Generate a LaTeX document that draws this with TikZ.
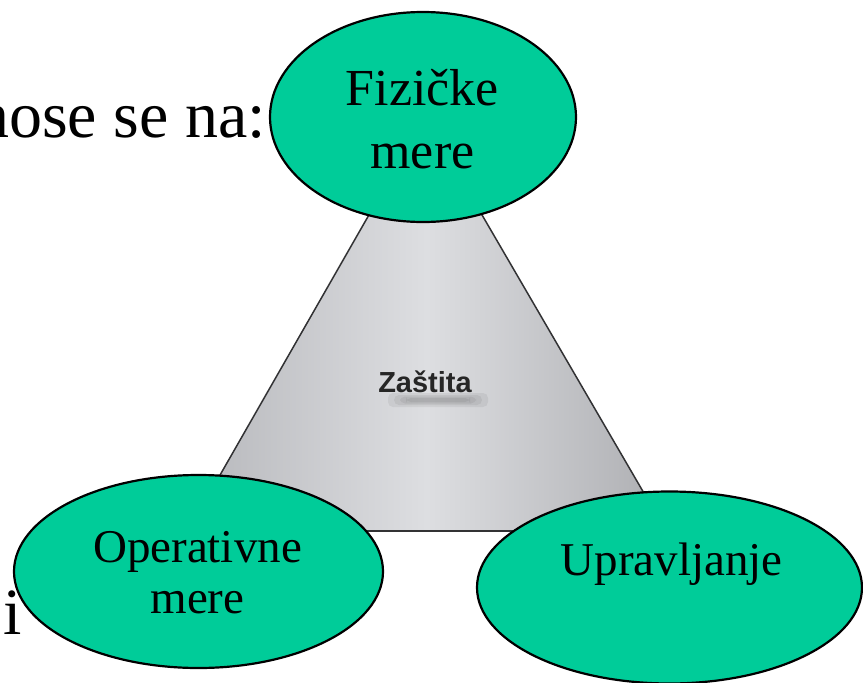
\documentclass[tikz,border=0pt]{standalone}
\usepackage{fontspec}
\setmainfont{Liberation Serif}
\newfontfamily\zsans{Liberation Sans}
\usetikzlibrary{shapes.geometric}
\definecolor{blobgreen}{RGB}{0,204,153}
\definecolor{trigray}{RGB}{182,183,187}
\definecolor{trilight}{RGB}{221,222,225}
\definecolor{triline}{RGB}{50,50,52}
\tikzset{
  blob/.style={ellipse, draw=black, line width=2.2pt, fill=blobgreen, inner sep=0pt},
  bigtxt/.style={inner sep=0pt, font=\fontsize{52}{60}\selectfont},
  midtxt/.style={inner sep=0pt, font=\fontsize{47}{54}\selectfont},
  slidetxt/.style={inner sep=0pt, font=\fontsize{66}{72}\selectfont},
}
\begin{document}
\begin{tikzpicture}[x=1pt,y=-1pt]
\useasboundingbox (0,0) rectangle (863,683);
% slide text behind
\node[slidetxt, anchor=base east] (nose) at (266,137) {nose se na:};
\node[slidetxt, anchor=base west] (ii) at (3,634) {i};
% triangle
\coordinate (apex) at (425,117);
\coordinate (bl) at (188,531);
\coordinate (br) at (666,531);
\shade[left color=trigray, right color=trigray!95!black, middle color=trilight, shading angle=90]
  (apex) -- (bl) -- (br) -- cycle;
\draw[triline, line width=1.5pt, line join=round] (apex) -- (bl) -- (br) -- cycle;
\draw[triline, line width=2.4pt] (bl) -- (br);
% soft shadow under the label
\foreach \w/\h in {100/14, 88/10, 76/7, 64/4}
  \fill[black, opacity=0.06, rounded corners=5pt] (438-\w/2,400-\h/2) rectangle (438+\w/2,400+\h/2);
\node[inner sep=0pt, anchor=base, text=black!85, font=\zsans\bfseries\fontsize{29}{32}\selectfont] (zastita) at (425,392) {Zaštita};
% ellipses
\node[blob, minimum width=306pt, minimum height=210pt] (fiz) at (423,117) {};
\node[blob, minimum width=369pt, minimum height=193pt] (ope) at (198.5,571.5) {};
\node[blob, minimum width=385pt, minimum height=192pt] (upr) at (669.5,587.5) {};
% ellipse texts
\node[bigtxt, anchor=base] (fiz1) at (422.5,105) {Fizičke};
\node[bigtxt, anchor=base] (fiz2) at (422.5,168) {mere};
\node[midtxt, anchor=base] (ope1) at (197.5,562) {Operativne};
\node[midtxt, anchor=base] (ope2) at (197.5,613) {mere};
\node[midtxt, anchor=base] (upr1) at (671.5,575) {Upravljanje};
\end{tikzpicture}
\end{document}
